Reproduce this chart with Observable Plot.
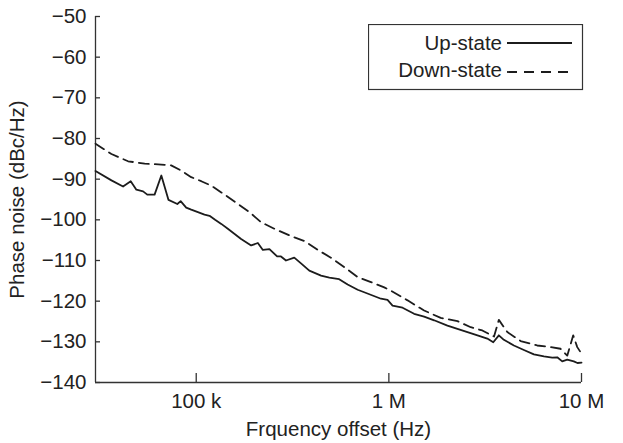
<!DOCTYPE html>
<html><head><meta charset="utf-8">
<script src="https://cdn.jsdelivr.net/npm/d3@7"></script>
<script src="https://cdn.jsdelivr.net/npm/@observablehq/plot@0.6"></script>
<style>
body{margin:0;background:#fff;}
#chart{position:relative;width:623px;height:443px;font-family:"Liberation Sans",Arial,Helvetica,sans-serif;}
#legend{position:absolute;left:368px;top:24px;}
</style></head><body><div id="chart"></div>
<script>
// Up-state (solid)
const upFreq = [30000,36300,41700,45700,48900,53000,55700,60800,65900,71800,79800,83000,88700,94200,102000,110400,117200,125300,134900,145900,171000,192800,208900,221800,239900,263000,275400,292400,322800,349900,386400,444600,490900,552100,610900,688700,744700,909900,984000,1045000,1178000,1352000,1524000,1718000,2014000,2270000,2559000,2884000,3243000,3483000,3724000,3954000,4457000,5023000,5662000,6383000,7047000,7482000,7943000,8433000,9120000,9528000,10000000];
const upNoise = [-88.0,-90.3,-91.8,-90.5,-92.6,-93.0,-93.8,-93.8,-89.1,-95.1,-96.1,-95.4,-97.0,-97.5,-98.1,-98.7,-99.0,-100.0,-101.0,-102.2,-104.7,-106.3,-105.7,-107.4,-107.2,-109.0,-109.0,-110.0,-109.3,-110.7,-112.5,-113.7,-114.2,-114.6,-115.9,-117.2,-117.8,-119.4,-119.7,-121.1,-121.6,-123.1,-123.8,-124.7,-126.0,-126.8,-127.6,-128.4,-129.2,-130.1,-128.4,-129.5,-130.9,-132.0,-133.1,-133.6,-133.9,-133.8,-134.8,-134.4,-134.8,-135.2,-135.1];
// Down-state (dashed)
const downFreq = [30000,36300,44300,54000,65900,74100,83600,94200,106200,119700,140300,164400,188800,217300,254700,310500,363900,427600,500000,586100,688700,807200,946200,1023000,1250000,1524000,1858000,2270000,2661000,3055000,3516000,3724000,4121000,4831000,5888000,6902000,7780000,8433000,9057000,9506000,10000000];
const downNoise = [-81.3,-83.8,-85.6,-86.2,-86.4,-86.6,-87.9,-89.5,-90.5,-91.6,-93.8,-96.1,-98.1,-100.6,-102.2,-104.0,-105.2,-107.4,-109.3,-111.6,-114.1,-115.3,-116.6,-117.4,-119.8,-122.3,-124.1,-124.9,-126.4,-127.2,-128.7,-124.6,-127.6,-129.8,-130.9,-131.3,-131.7,-133.4,-128.4,-131.3,-132.9];

const seriesNames = ["Up-state", "Down-state"];
const seriesDash = [null, "10,6"];
const xDomain = [30000, 1e7];
const yDomain = [-140, -50];
const xTicks = [1e5, 1e6, 1e7];
const xTickLabels = ["100 k", "1 M", "10 M"];
const yTicks = [-50, -60, -70, -80, -90, -100, -110, -120, -130, -140];
const xTitle = "Frquency offset (Hz)";
const yTitle = "Phase noise (dBc/Hz)";

const up = upFreq.map((f, i) => ({f, v: upNoise[i]}));
const down = downFreq.map((f, i) => ({f, v: downNoise[i]}));

const FONT = "'Liberation Sans', Arial, Helvetica, sans-serif";
const INK = "#1c1c1c";
const AXIS = "#333";

const W = 623, H = 443, ML = 95, MR = 42, MT = 16, MB = 61;
const plotW = W - ML - MR, plotH = H - MT - MB;
const yTickLen = 5, xTickLen = 9;

const plot = Plot.plot({
  width: W, height: H,
  marginLeft: ML, marginRight: MR, marginTop: MT, marginBottom: MB,
  style: {fontFamily: FONT, fontSize: "20.5px", color: "#222", background: "#fff", overflow: "visible"},
  x: {type: "log", domain: xDomain},
  y: {domain: yDomain},
  marks: [
    // axis lines
    Plot.ruleX([xDomain[0]], {stroke: AXIS, strokeWidth: 1.3}),
    Plot.ruleY([yDomain[0]], {stroke: AXIS, strokeWidth: 1.3}),
    // inward ticks
    Plot.ruleY(yTicks, {stroke: AXIS, strokeWidth: 1.3, insetRight: plotW - yTickLen}),
    Plot.ruleX(xTicks, {stroke: AXIS, strokeWidth: 1.3, insetTop: plotH - xTickLen}),
    // tick labels and titles
    Plot.axisX({ticks: xTicks, tickFormat: d => xTickLabels[xTicks.indexOf(d)], tickSize: 0, tickPadding: 11,
      label: xTitle, labelAnchor: "center", labelArrow: "none", labelOffset: 53}),
    Plot.axisY({ticks: yTicks, tickFormat: d3.format("d"), tickSize: 0, tickPadding: 9,
      label: yTitle, labelAnchor: "center", labelArrow: "none", labelOffset: 86}),
    Plot.line(up, {x: "f", y: "v", stroke: INK, strokeWidth: 1.8}),
    Plot.line(down, {x: "f", y: "v", stroke: INK, strokeWidth: 1.8, strokeDasharray: seriesDash[1]})
  ]
});
const chart = document.getElementById("chart");
chart.appendChild(plot);

// Legend box overlay
const lg = d3.select(chart).append("svg").attr("id", "legend")
  .attr("width", 216).attr("height", 67);
lg.append("rect").attr("x", 0.5).attr("y", 0.5).attr("width", 214).attr("height", 65)
  .attr("fill", "#fff").attr("stroke", AXIS).attr("stroke-width", 1.2);
seriesNames.forEach((name, i) => {
  const base = 26 + i * 27;
  lg.append("text").attr("x", 134).attr("y", base).attr("text-anchor", "end")
    .attr("font-family", FONT).attr("font-size", "20.5px").attr("fill", "#222").text(name);
  lg.append("line").attr("x1", 139).attr("x2", 204).attr("y1", base - 7 + i * 2).attr("y2", base - 7 + i * 2)
    .attr("stroke", INK).attr("stroke-width", 1.8)
    .attr("stroke-dasharray", seriesDash[i] ? "10,7" : null);
});
</script></body></html>
